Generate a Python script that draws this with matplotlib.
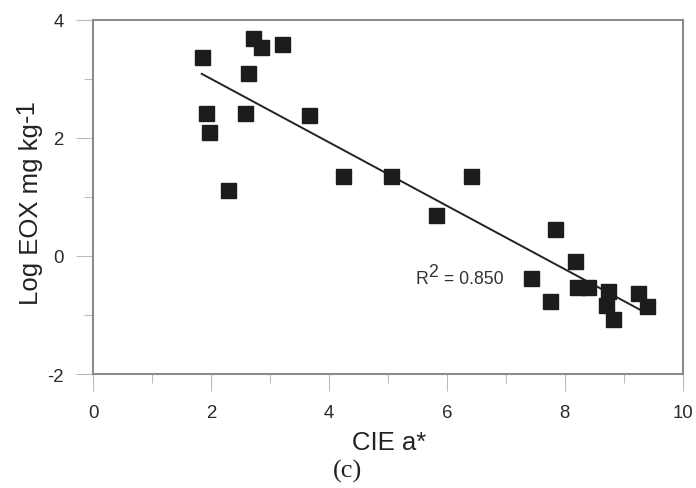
import numpy as np
import matplotlib
matplotlib.use('Agg')
import matplotlib.pyplot as plt
from matplotlib.ticker import MultipleLocator

plt.rcParams['font.family'] = ['Liberation Sans', 'DejaVu Sans']
plt.rcParams['axes.unicode_minus'] = False

# CIE a* vs log EOX
cie_a = [1.84, 1.92, 1.96, 2.29, 2.58, 2.63, 2.71, 2.84, 3.20, 3.66,
         4.24, 5.05, 5.81, 6.41, 7.42, 7.75, 7.84, 8.17, 8.21, 8.40,
         8.70, 8.73, 8.81, 9.24, 9.39]
log_eox = [3.37, 2.41, 2.09, 1.12, 2.41, 3.10, 3.69, 3.53, 3.58, 2.39,
           1.36, 1.36, 0.69, 1.36, -0.38, -0.76, 0.45, -0.08, -0.53, -0.53,
           -0.83, -0.60, -1.06, -0.63, -0.85]
r2_value = '0.850'

W, H = 696, 489
fig = plt.figure(figsize=(W / 100, H / 100), dpi=100)
ax = fig.add_axes([0.134, 0.233, 0.847, 0.725])

ax.plot(cie_a, log_eox, 's', ms=10.8, color='#1c1c1c', zorder=3)

# least squares line over the data range
k, b = np.polyfit(cie_a, log_eox, 1)
xs = np.array([min(cie_a), max(cie_a)])
ax.plot(xs, k * xs + b, color='#222222', lw=1.4)

# R^2 label, superscript kept full size
fs = 12.7
ax.annotate('R', (5.46, -0.46), fontsize=fs, color='#333333', va='baseline')
ax.annotate('2', (5.46, -0.46), xytext=(9.0, 5.0), textcoords='offset points',
            fontsize=fs, color='#333333', va='baseline')
ax.annotate(' = ' + r2_value, (5.46, -0.46), xytext=(17.5, 0), textcoords='offset points',
            fontsize=fs, color='#333333', va='baseline')

ax.set_xlim(0, 10)
ax.set_ylim(-2, 4)
ax.xaxis.set_major_locator(MultipleLocator(2))
ax.xaxis.set_minor_locator(MultipleLocator(1))
ax.yaxis.set_major_locator(MultipleLocator(2))
ax.yaxis.set_minor_locator(MultipleLocator(1))
ax.tick_params(which='major', direction='out', length=12.5, width=0.8,
               color='#bbbbbb', labelsize=13.4, labelcolor='#2a2a2a', pad=9)
ax.tick_params(which='minor', direction='out', length=6.5, width=0.8, color='#bbbbbb')
for s in ax.spines.values():
    s.set_color('#8c8c8c')
    s.set_linewidth(1.5)

# axis titles
lab_fs = 18.5
fig.text(389 / W, 1 - 450 / H, 'CIE a*', fontsize=lab_fs, color='#222222',
         ha='center', va='baseline')
ylab = fig.text(38.5 / W, 1 - 214 / H, 'Log EOX mg kg', fontsize=lab_fs, color='#222222',
                rotation=90, rotation_mode='anchor', ha='center', va='baseline')
fig.canvas.draw()
bb = ylab.get_window_extent()
fig.text((38.5 - 5) / W, (bb.y1 + 1) / H, '-1', fontsize=lab_fs, color='#222222',
         rotation=90, rotation_mode='anchor', ha='left', va='baseline')

fig.text(348 / W, 1 - 478 / H, '(c)', family='Liberation Serif', fontsize=19,
         color='#222222', ha='center', va='baseline')

fig.savefig('out.png', dpi=100)
